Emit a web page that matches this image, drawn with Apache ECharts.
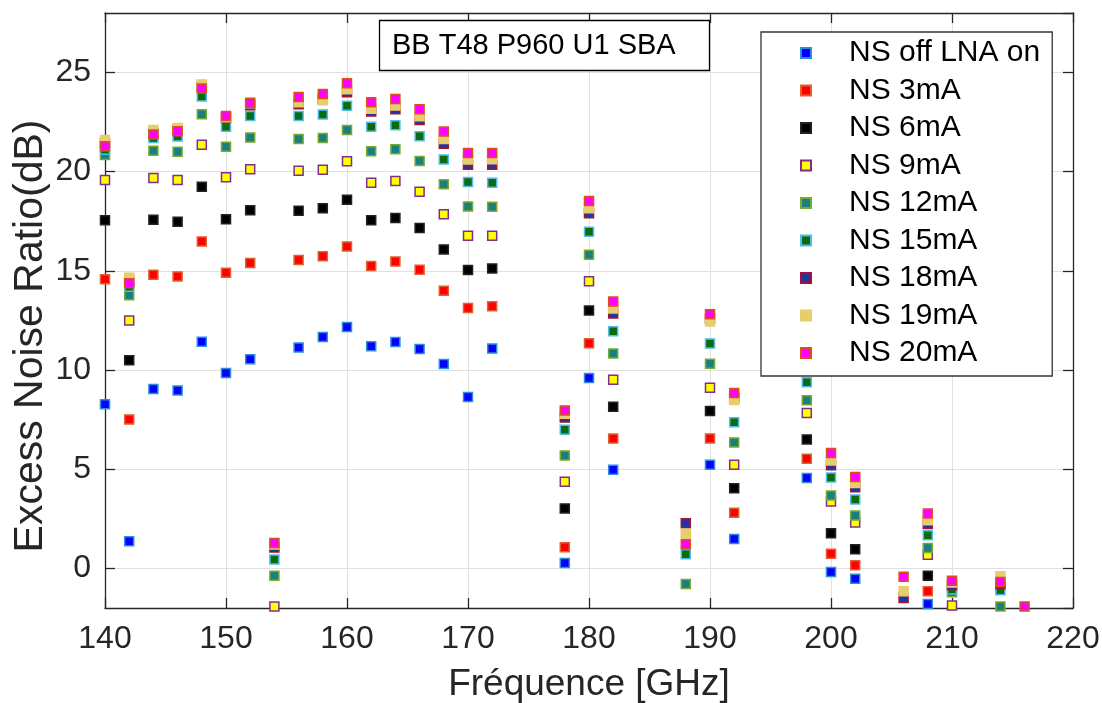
<!DOCTYPE html>
<html>
<head>
<meta charset="utf-8">
<script src="https://cdn.jsdelivr.net/npm/echarts@6/dist/echarts.min.js"></script>
<style>
  html, body { margin: 0; padding: 0; background: #fff; }
  #chart { width: 1102px; height: 703px; }
</style>
</head>
<body>
<div id="chart"></div>
<script>
// frequencies (GHz), null = point not visible in the plot
var freqs = [140, 142, 144, 146, 148, 150, 152, 154, 156, 158, 160, 162, 164, 166, 168, 170, 172,
  178, 180, 182, 188, 190, 192, 198, 200, 202, 206, 208, 210, 214, 216];

var nsOff = [8.27, 1.36, 9.04, 8.97, 11.43, 9.85, 10.54, null, 11.13, 11.67, 12.17, 11.2, 11.41, 11.06, 10.3, 8.64, 11.08,
  0.27, 9.6, 4.97, null, 5.22, 1.48, 4.55, -0.18, -0.52, null, -1.8, null, null, null];
var ns3 = [14.58, 7.51, 14.8, 14.72, 16.48, 14.9, 15.4, null, 15.54, 15.74, 16.23, 15.25, 15.47, 15.05, 13.99, 13.13, 13.22,
  1.06, 11.35, 6.54, null, 6.55, 2.8, 5.52, 0.74, 0.15, null, -1.16, null, null, null];
var ns6 = [17.55, 10.49, 17.58, 17.48, 19.24, 17.6, 18.05, null, 18.03, 18.15, 18.59, 17.55, 17.66, 17.16, 16.08, 15.04, 15.12,
  3.02, 13.0, 8.15, null, 7.93, 4.04, 6.5, 1.77, 0.96, null, -0.37, null, null, null];
var ns9 = [19.58, 12.5, 19.68, 19.58, 21.36, 19.72, 20.12, -1.92, 20.05, 20.1, 20.52, 19.44, 19.53, 18.99, 17.85, 16.77, 16.77,
  4.36, 14.48, 9.51, null, 9.11, 5.22, 7.83, 3.37, 2.31, null, 0.69, -1.87, null, null];
var ns12 = [20.84, 13.77, 21.06, 21.01, 22.9, 21.26, 21.72, -0.37, 21.65, 21.7, 22.1, 21.03, 21.13, 20.54, 19.36, 18.25, 18.23,
  5.69, 15.81, 10.83, -0.79, 10.32, 6.35, 8.47, 3.67, 2.66, null, 1.03, -1.2, -1.92, null];
var ns15 = [21.1, 14.2, 21.7, 21.77, 23.79, 22.27, 22.81, 0.44, 22.81, 22.88, 23.32, 22.26, 22.34, 21.79, 20.61, 19.48, 19.44,
  6.99, 16.97, 11.95, 0.71, 11.33, 7.36, 9.38, 4.58, 3.47, null, 1.67, -1.07, -1.11, null];
var ns18 = [21.45, 14.5, 21.95, 22.1, 24.3, 22.7, 23.35, 1.05, 23.4, 23.65, 24.0, 23.03, 23.15, 22.61, 21.41, 20.35, 20.35,
  7.6, 17.9, 12.85, 2.27, 12.6, 8.6, 10.4, 5.2, 4.09, -1.5, 2.24, -0.85, -0.8, null];
var ns19 = [21.6, 14.65, 22.1, 22.2, 24.4, 22.75, 23.45, 1.2, 23.5, 23.6, 24.16, 23.17, 23.33, 22.8, 21.65, 20.61, 20.63,
  7.8, 18.15, 13.1, 1.74, 12.44, 8.49, 10.6, 5.44, 4.3, -1.16, 2.42, -0.72, -0.4, null];
var ns20 = [21.28, 14.38, 21.87, 22.04, 24.19, 22.81, 23.48, 1.28, 23.76, 23.92, 24.46, 23.5, 23.67, 23.15, 22.02, 20.94, 20.94,
  7.96, 18.52, 13.45, 1.21, 12.81, 8.84, 10.9, 5.81, 4.6, -0.42, 2.76, -0.62, -0.69, -1.92];

var seriesNames = ["NS off LNA on", "NS 3mA", "NS 6mA", "NS 9mA", "NS 12mA", "NS 15mA", "NS 18mA", "NS 19mA", "NS 20mA"];
var seriesValues = [nsOff, ns3, ns6, ns9, ns12, ns15, ns18, ns19, ns20];
var faceColors = ["#0000ff", "#ff0000", "#000000", "#ffff00", "#1b7f7f", "#0d6a0d", "#2532a0", "#e8cd6b", "#ff00ff"];
var edgeColors = ["#2b8fdc", "#e0602e", "#222222", "#7e2f8e", "#77ac30", "#4dbeee", "#a2142f", "#e8cd6b", "#d95319"];

var xTicks = { min: 140, max: 220, interval: 10 };
var yRange = { min: -2, max: 28 };

var FONT = "Liberation Sans, Arial, Helvetica, sans-serif";
var AXIS_COLOR = "#262626";

var chart = echarts.init(document.getElementById("chart"));

var series = [];
seriesNames.forEach(function (name, k) {
  var pts = [];
  freqs.forEach(function (f, i) {
    if (seriesValues[k][i] !== null) pts.push([f, seriesValues[k][i]]);
  });
  series.push({
    name: name,
    type: "scatter",
    data: pts,
    symbol: "rect",
    symbolSize: 9,
    itemStyle: {
      color: faceColors[k],
      borderColor: edgeColors[k],
      borderWidth: 1.5,
      opacity: 1
    },
    emphasis: { disabled: true }
  });
});

function boxAxis(pos) {
  return {
    type: "value",
    position: pos,
    axisLine: { show: true, onZero: false, lineStyle: { color: AXIS_COLOR, width: 1.3 } },
    axisTick: { show: true, inside: true, length: 10, lineStyle: { color: AXIS_COLOR, width: 1.3 } },
    axisLabel: { show: false },
    splitLine: { show: false }
  };
}

var xTop = boxAxis("top");
xTop.min = xTicks.min; xTop.max = xTicks.max; xTop.interval = xTicks.interval;
var yRight = boxAxis("right");
yRight.min = yRange.min; yRight.max = yRange.max; yRight.splitNumber = 6;

var option = {
  animation: false,
  title: {
    text: "BB T48 P960 U1 SBA",
    left: 379,
    top: 20,
    padding: [11, 34, 11, 13],
    borderColor: "#000",
    borderWidth: 1.3,
    backgroundColor: "#fff",
    textStyle: { fontSize: 29, fontWeight: "normal", color: "#000", fontFamily: FONT }
  },
  legend: {
    orient: "vertical",
    left: 761,
    top: 32,
    backgroundColor: "#fff",
    borderColor: "#333",
    borderWidth: 1.3,
    padding: [6, 12, 8, 39],
    itemWidth: 10,
    itemHeight: 10,
    itemGap: 7.5,
    data: seriesNames,
    textStyle: { fontSize: 30, lineHeight: 30, color: "#000", fontFamily: FONT, padding: [0, 0, 0, 33] }
  },
  // y axis title drawn as text so it can sit where the reference has it
  graphic: [
    {
      type: "text",
      x: 31,
      y: 336,
      rotation: Math.PI / 2,
      style: {
        text: "Excess Noise Ratio(dB)",
        fontSize: 41,
        fontFamily: FONT,
        fill: AXIS_COLOR,
        align: "center",
        verticalAlign: "middle"
      }
    }
  ],
  grid: { left: 105, right: 29, top: 13, bottom: 95, containLabel: false, outerBoundsMode: "none" },
  xAxis: [
    {
      type: "value",
      min: xTicks.min,
      max: xTicks.max,
      interval: xTicks.interval,
      name: "Fréquence [GHz]",
      nameLocation: "middle",
      nameGap: 58,
      nameTextStyle: { fontSize: 37, color: AXIS_COLOR, fontFamily: FONT },
      axisLine: { show: true, onZero: false, lineStyle: { color: AXIS_COLOR, width: 1.3 } },
      axisTick: { show: true, inside: true, length: 10, lineStyle: { color: AXIS_COLOR, width: 1.3 } },
      axisLabel: { fontSize: 32, color: AXIS_COLOR, fontFamily: FONT, margin: 15 },
      splitLine: { show: true, lineStyle: { color: "#e0e0e0", width: 1 } }
    },
    xTop
  ],
  yAxis: [
    {
      type: "value",
      min: yRange.min,
      max: yRange.max,
      splitNumber: 6,
      axisLine: { show: true, onZero: false, lineStyle: { color: AXIS_COLOR, width: 1.3 } },
      axisTick: { show: true, inside: true, length: 10, lineStyle: { color: AXIS_COLOR, width: 1.3 } },
      axisLabel: {
        fontSize: 32, color: AXIS_COLOR, fontFamily: FONT, margin: 14,
        showMinLabel: false, showMaxLabel: false,
        formatter: function (v) { return v % 5 === 0 ? String(v) : ""; }
      },
      splitLine: { show: true, lineStyle: { color: "#e0e0e0", width: 1 } }
    },
    yRight
  ],
  series: series
};

chart.setOption(option);
</script>
</body>
</html>
